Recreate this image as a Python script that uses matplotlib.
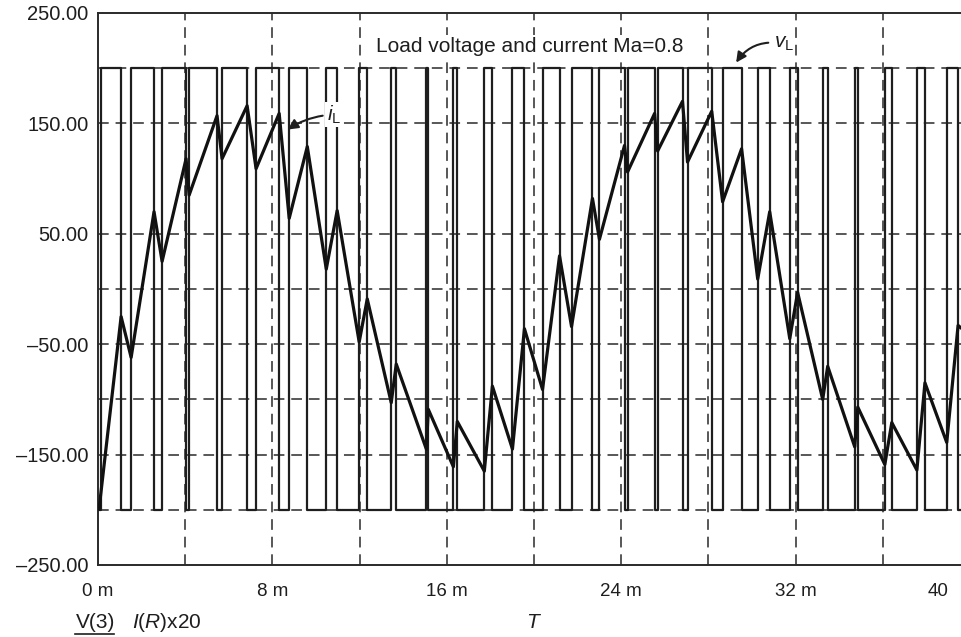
import numpy as np
import matplotlib.pyplot as plt
from matplotlib.lines import Line2D

plt.rcParams['font.family'] = ['Liberation Sans', 'DejaVu Sans']
plt.rcParams['mathtext.fontset'] = 'custom'
plt.rcParams['mathtext.rm'] = 'Liberation Sans'
plt.rcParams['mathtext.it'] = 'Liberation Sans:italic'

# switching instants of the load voltage (ms), level starts at -200
v_edges = [0.15, 1.06, 1.52, 2.57, 2.94, 4.04, 4.18, 5.46, 5.69, 6.84, 7.25,
           8.31, 8.77, 9.60, 10.47, 10.97, 11.98, 12.35, 13.45, 13.68, 15.06,
           15.15, 16.30, 16.48, 17.72, 18.09, 19.01, 19.56, 20.39, 21.17, 21.72,
           22.68, 23.00, 24.15, 24.29, 25.53, 25.67, 26.81, 27.04, 28.15, 28.65,
           29.52, 30.26, 30.81, 31.73, 32.09, 33.24, 33.47, 34.71, 34.85, 36.09,
           36.41, 37.56, 37.93, 38.93, 39.45]
v_high = 200
v_low = -200

# load current x20 at the corners of the ripple
i_t = [0.05, 1.06, 1.52, 2.57, 2.94, 4.04, 4.18, 5.46, 5.69, 6.84, 7.25,
       8.31, 8.77, 9.60, 10.47, 10.97, 11.98, 12.35, 13.45, 13.68, 15.06,
       15.15, 16.30, 16.48, 17.72, 18.09, 19.01, 19.56, 20.39, 21.17, 21.72,
       22.68, 23.00, 24.15, 24.29, 25.53, 25.67, 26.81, 27.04, 28.15, 28.65,
       29.52, 30.26, 30.81, 31.73, 32.09, 33.24, 33.47, 34.71, 34.85, 36.09,
       36.41, 37.56, 37.93, 38.93, 39.45, 39.63]
i_val = [-199, -25, -62, 70, 25, 118, 85, 157, 118, 166, 109,
         159, 64, 129, 18, 71, -48, -9, -103, -68, -145,
         -109, -161, -120, -165, -88, -145, -36, -91, 30, -34,
         82, 45, 130, 106, 159, 125, 170, 115, 161, 79,
         127, 9, 70, -45, -3, -100, -70, -143, -107, -159,
         -121, -164, -85, -139, -33, -36]

y_ticks = [250, 150, 50, -50, -150, -250]
y_grid = [200, 150, 50, 0, -50, -100, -150, -200]
x_ticks = [0, 8, 16, 24, 32]
x_grid = [4, 8, 12, 16, 20, 24, 28, 32, 36]
t_end = 39.63

# build the step waveform
t_v = [0.0] + v_edges + [t_end]
lev = [v_low]
for k in range(len(v_edges)):
    lev.append(v_high if k % 2 == 0 else v_low)
lev.append(lev[-1])

ink = '#1e1e1e'

fig = plt.figure(figsize=(9.62, 6.37), dpi=100)
ax = fig.add_axes([98 / 962, 1 - 565 / 637, 864 / 962, 552 / 637])
ax.set_xlim(0, t_end)
ax.set_ylim(-250, 250)

dash = (0, (7, 4.5))
for y in y_grid:
    ax.axhline(y, color='#2a2a2a', lw=1.1, ls=dash, zorder=1)
for x in x_grid:
    ax.axvline(x, color='#2a2a2a', lw=1.1, ls=dash, zorder=1)

ax.plot(t_v, lev, drawstyle='steps-post', color=ink, lw=1.6, zorder=3)
ax.plot(i_t, i_val, color='#111111', lw=2.3, zorder=4)

for s in ['top', 'left', 'bottom']:
    ax.spines[s].set_linewidth(1.4)
    ax.spines[s].set_color('#2a2a2a')
ax.spines['right'].set_visible(False)

ax.set_yticks(y_ticks)
ax.set_yticklabels([f"{v:.2f}".replace('-', '\u2013') for v in y_ticks])
ax.set_xticks(x_ticks)
ax.set_xticklabels([f"{v} m" for v in x_ticks])
ax.tick_params(length=0, colors=ink)
ax.tick_params(axis='y', pad=7, labelsize=14.5)
ax.tick_params(axis='x', pad=13, labelsize=13.5)
ax.text(38.55, -0.033, "40", transform=ax.get_xaxis_transform(), ha='center',
        va='top', fontsize=13.5, color=ink)

ax.text(0.5, 0.94, "Load voltage and current Ma=0.8", transform=ax.transAxes,
        ha='center', va='center', fontsize=15, color=ink, zorder=6,
        bbox=dict(facecolor='white', edgecolor='none', pad=1))

ax.annotate(r"$i_{\mathrm{L}}$", xy=(8.6, 143), xytext=(10.5, 158),
            fontsize=15, ha='left', va='center', color=ink, zorder=6,
            bbox=dict(facecolor='white', edgecolor='none', pad=1),
            arrowprops=dict(arrowstyle='-|>', color=ink, lw=1.5,
                            connectionstyle='arc3,rad=0.15'))
ax.annotate(r"$v_{\mathrm{L}}$", xy=(29.2, 203), xytext=(31.0, 222),
            fontsize=15, ha='left', va='center', color=ink, zorder=6,
            arrowprops=dict(arrowstyle='-|>', color=ink, lw=1.5,
                            connectionstyle='arc3,rad=0.35'))

fig.text(76 / 962, 1 - 622 / 637, "V(3)", fontsize=15, ha='left', va='center',
         color=ink)
fig.add_artist(Line2D([75 / 962, 114 / 962], [1 - 634 / 637, 1 - 634 / 637],
                      color=ink, lw=1.2))
fig.text(132 / 962, 1 - 622 / 637, r"$I$($R$)x20", fontsize=15, ha='left',
         va='center', color=ink)
fig.text(534 / 962, 1 - 622 / 637, r"$T$", fontsize=15, ha='center',
         va='center', color=ink)

fig.savefig("out.png", dpi=100)
